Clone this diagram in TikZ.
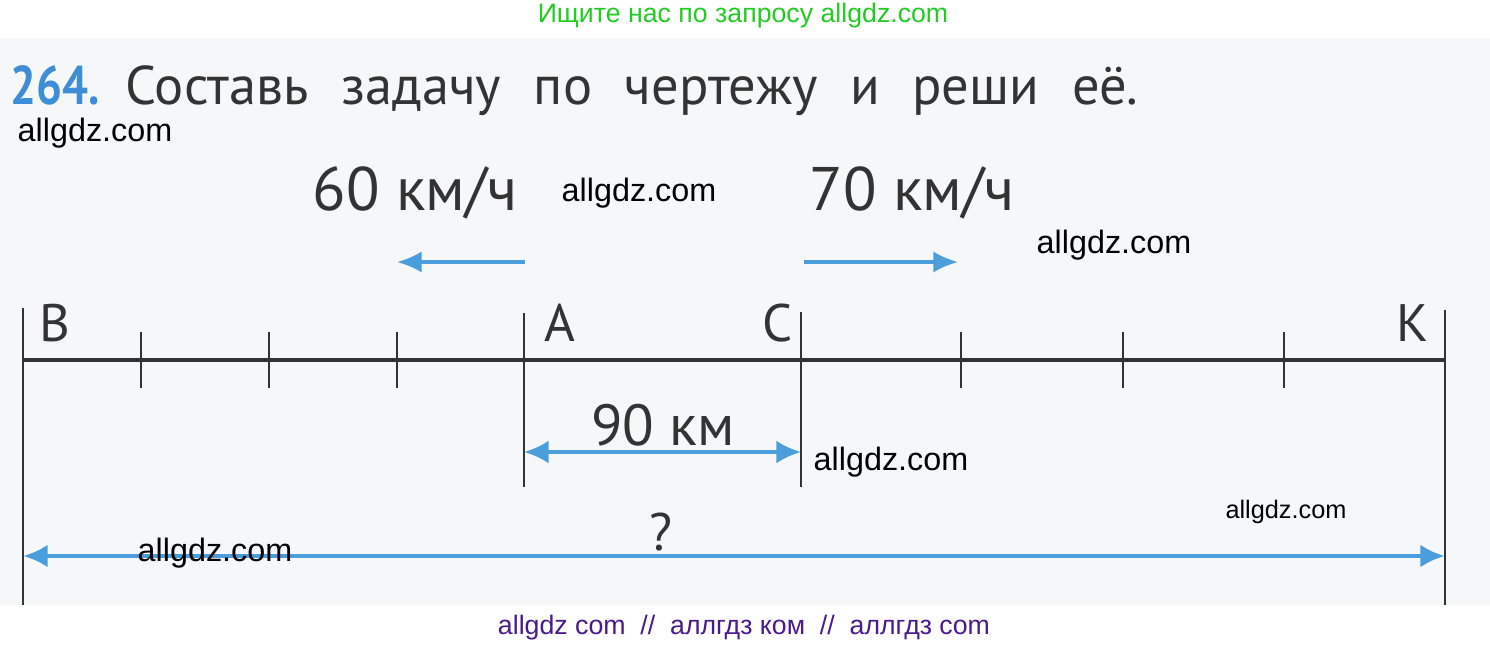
\documentclass[tikz,border=0pt]{standalone}
\usepackage{fontspec}
\setmainfont{PT Sans}
\newfontfamily\wmfont{Liberation Sans}
\usetikzlibrary{arrows.meta,calc}
\definecolor{bookblue}{HTML}{4A9EDB}
\definecolor{numblue}{HTML}{3D8ED6}
\definecolor{ink}{HTML}{333333}
\definecolor{pagegray}{HTML}{F6F7F8}
\definecolor{wmgreen}{HTML}{22CC22}
\definecolor{wmpurple}{HTML}{4B1A8C}

\tikzset{
  thin ink/.style={ink, line width=0.6pt},
  axis ink/.style={ink, line width=1.2pt},
  speed arrow/.style={bookblue, line width=0.9pt, -{Latex[length=7pt,width=6pt]}},
  dist arrow/.style={bookblue, line width=1pt, {Latex[length=7pt,width=6.5pt]}-{Latex[length=7pt,width=6.5pt]}},
  pt label/.style={ink, font=\fontsize{15}{15}\selectfont, anchor=base, inner sep=0pt},
  big label/.style={ink, font=\fontsize{16.5}{16.5}\selectfont, anchor=base, inner sep=0pt},
  wm/.style={black, font=\wmfont\fontsize{9.2}{9.2}\selectfont, inner sep=0pt}
}

\begin{document}
\begin{tikzpicture}
\useasboundingbox (0,0) rectangle (14.9,-6.49);
\fill[white] (0,0) rectangle (14.9,-6.49);
\fill[pagegray] (0,-0.38) rectangle (14.9,-6.05);

% points on the line
\coordinate (B) at (0.23,-3.60);
\coordinate (A) at (5.24,-3.60);
\coordinate (C) at (8.01,-3.60);
\coordinate (K) at (14.45,-3.60);

\draw[axis ink] (B) -- (K);
\draw[thin ink] ($(B)+(0,0.52)$) -- ($(B)+(0,-2.45)$);
\draw[thin ink] ($(K)+(0,0.50)$) -- ($(K)+(0,-2.45)$);
\draw[thin ink] ($(A)+(0,0.47)$) -- ($(A)+(0,-1.27)$);
\draw[thin ink] ($(C)+(0,0.48)$) -- ($(C)+(0,-1.27)$);
\foreach \x in {1.41,2.69,3.97,9.61,11.23,12.84} {
  \draw[thin ink] (\x,-3.32) -- (\x,-3.88);
  }

\node[pt label] (lB) at (0.55,-3.41) {В};
\node[pt label] (lA) at (5.60,-3.41) {А};
\node[pt label] (lC) at (7.78,-3.41) {С};
\node[pt label] (lK) at (14.13,-3.41) {К};

% speeds
\node[big label, font=\fontsize{17.5}{17.5}\selectfont] (v1) at (4.15,-2.10) {60 км/ч};
\node[big label, font=\fontsize{17.5}{17.5}\selectfont] (v2) at (9.12,-2.10) {70 км/ч};
\coordinate (v1s) at (5.25,-2.62);
\coordinate (v1e) at (3.97,-2.62);
\coordinate (v2s) at (8.04,-2.62);
\coordinate (v2e) at (9.58,-2.62);
\draw[speed arrow] (v1s) -- (v1e);
\draw[speed arrow] (v2s) -- (v2e);

% distances
\node[big label] (d1) at (6.63,-4.45) {90 км};
\draw[dist arrow] ($(A)+(0,-0.92)$) -- ($(C)+(0,-0.92)$);
\node[big label, font=\fontsize{15}{15}\selectfont] (q) at (6.61,-5.50) {?};
\draw[dist arrow, line width=1.3pt] ($(B)+(0,-1.96)$) -- ($(K)+(0,-1.96)$);

% title
\node[anchor=base west, inner sep=0pt, text=numblue, xscale=0.84, transform shape, font=\fontsize{15.5}{15.5}\selectfont\bfseries] (num) at (0.10,-1.04) {264.};
\node[anchor=base west, inner sep=0pt, text=ink, font=\fontsize{15.5}{15.5}\selectfont] (task) at (1.25,-1.04)
  {Составь\hspace{0.6em}задачу\hspace{0.6em}по\hspace{0.6em}чертежу\hspace{0.6em}и\hspace{0.6em}реши\hspace{0.6em}её.};

% watermarks
\node[text=wmgreen, font=\wmfont\fontsize{7.6}{7.6}\selectfont, inner sep=0pt] (top) at (7.43,-0.16) {Ищите нас по запросу allgdz.com};
\node[wm] (w1) at (0.95,-1.33) {allgdz.com};
\node[wm] (w2) at (6.39,-1.93) {allgdz.com};
\node[wm] (w3) at (11.14,-2.45) {allgdz.com};
\node[wm] (w4) at (8.91,-4.62) {allgdz.com};
\node[wm, font=\wmfont\fontsize{7.2}{7.2}\selectfont] (w5) at (12.86,-5.12) {allgdz.com};
\node[wm] (w6) at (2.15,-5.53) {allgdz.com};
\node[text=wmpurple, font=\wmfont\fontsize{7.6}{7.6}\selectfont, inner sep=0pt] (bot) at (7.44,-6.28) {allgdz com \ // \ аллгдз ком \ // \ аллгдз com};
\end{tikzpicture}
\end{document}
